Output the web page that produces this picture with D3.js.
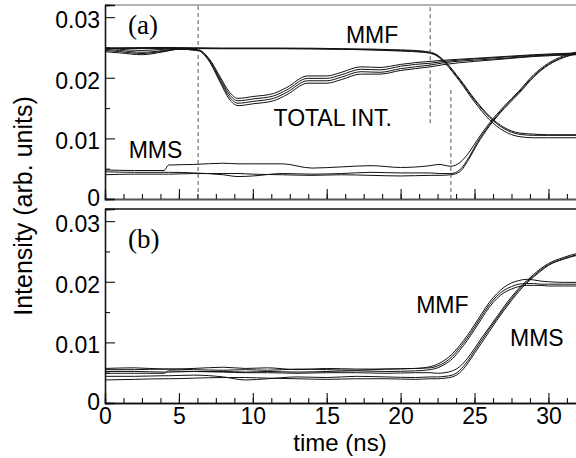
<!DOCTYPE html>
<html>
<head>
<meta charset="utf-8">
<script src="https://cdn.jsdelivr.net/npm/d3@7/dist/d3.min.js"></script>
<style>
  body { margin: 0; background: #fff; }
  svg { display: block; }
</style>
</head>
<body>
<div id="chart"></div>
<script>
/* Panel (a): time grids and the traces.
** Each group (MMF, MMS, TOTAL INT.) is a bundle of a few repeated shots.
*/
var timeTotA = [0, 1, 2.5, 4, 5, 6.3, 7, 7.8, 8.4, 9, 10, 11.4, 12.3, 13.7, 15, 16, 17.3, 18.6, 20, 21, 22, 23, 25, 27, 29, 32];
var totalA1 = [0.0249,0.0247,0.0245,0.0247,0.0248,0.0246,0.0233,0.0201,0.0177,0.0166,0.0169,0.0174,0.0184,0.0203,0.0203,0.0209,0.0218,0.0217,0.0222,0.0225,0.0227,0.0229,0.0232,0.0235,0.0238,0.0241];
var totalA2 = [0.0247,0.0245,0.0242,0.0245,0.0248,0.0246,0.0231,0.0198,0.0173,0.0162,0.0165,0.0170,0.0180,0.0199,0.0199,0.0205,0.0214,0.0213,0.0219,0.0222,0.0224,0.0227,0.0231,0.0234,0.0237,0.0240];
var totalA3 = [0.0245,0.0243,0.0240,0.0244,0.0247,0.0245,0.0230,0.0195,0.0169,0.0158,0.0161,0.0166,0.0176,0.0195,0.0195,0.0201,0.0210,0.0209,0.0215,0.0218,0.0221,0.0225,0.0229,0.0232,0.0236,0.0239];
var totalA4 = [0.0243,0.0241,0.0238,0.0243,0.0247,0.0245,0.0229,0.0192,0.0165,0.0154,0.0157,0.0162,0.0172,0.0191,0.0191,0.0197,0.0206,0.0206,0.0212,0.0215,0.0218,0.0222,0.0227,0.0231,0.0235,0.0238];

var timeMmfA = [0, 4, 8, 12, 16, 20, 21.5, 22.3, 23, 24, 25, 26, 27, 28, 29, 30, 32];
var mmfA1 = [0.0249,0.0250,0.0249,0.0249,0.0248,0.0246,0.0244,0.0240,0.0227,0.0198,0.0165,0.0137,0.0118,0.0109,0.0107,0.0106,0.0106];
var mmfA2 = [0.0248,0.0249,0.0248,0.0248,0.0247,0.0245,0.0243,0.0239,0.0226,0.0196,0.0163,0.0135,0.0116,0.0107,0.0105,0.0105,0.0105];
var mmfA3 = [0.0249,0.0248,0.0248,0.0248,0.0247,0.0244,0.0242,0.0238,0.0224,0.0194,0.0160,0.0131,0.0112,0.0103,0.0101,0.0101,0.0101];

var timeMmsA = [0, 2, 4, 4.3, 6, 8, 9, 10, 12, 14, 16, 18, 20, 22, 22.6, 23.4, 24, 24.6, 25.2, 26, 27, 28, 29, 30, 31, 32];
var mmsA1 = [0.0048,0.0047,0.0047,0.0056,0.0057,0.0059,0.0058,0.0058,0.0058,0.0051,0.0053,0.0055,0.0052,0.0055,0.0057,0.0054,0.0060,0.0076,0.0098,0.0125,0.0153,0.0178,0.0205,0.0224,0.0236,0.0243];
var mmsA2 = [0.0045,0.0044,0.0044,0.0044,0.0043,0.0040,0.0037,0.0038,0.0042,0.0041,0.0042,0.0044,0.0043,0.0043,0.0042,0.0042,0.0048,0.0068,0.0094,0.0122,0.0151,0.0176,0.0203,0.0222,0.0234,0.0241];
var mmsA3 = [0.0040,0.0041,0.0041,0.0041,0.0042,0.0042,0.0042,0.0041,0.0040,0.0039,0.0040,0.0039,0.0038,0.0039,0.0039,0.0040,0.0045,0.0065,0.0091,0.0120,0.0149,0.0174,0.0201,0.0221,0.0233,0.0240];

// Panel (b): one time grid for both bundles
var timeB = [0, 2, 4, 4.3, 6, 8, 9.5, 11, 13, 15, 17, 19, 21, 22, 22.5, 23, 23.5, 24, 24.5, 25, 25.5, 26, 26.5, 27, 27.5, 28, 28.5, 29, 29.5, 30, 31, 32];
var mmfB1 = [0.0057,0.0058,0.0056,0.0056,0.0057,0.0059,0.0057,0.0058,0.0055,0.0057,0.0056,0.0056,0.0057,0.0060,0.0064,0.0071,0.0081,0.0095,0.0111,0.0129,0.0148,0.0166,0.0180,0.0191,0.0198,0.0202,0.0204,0.0203,0.0201,0.0200,0.0199,0.0199];
var mmfB2 = [0.0055,0.0055,0.0056,0.0056,0.0055,0.0054,0.0055,0.0054,0.0056,0.0055,0.0054,0.0056,0.0057,0.0058,0.0061,0.0067,0.0077,0.0091,0.0107,0.0125,0.0144,0.0162,0.0176,0.0186,0.0192,0.0196,0.0197,0.0197,0.0196,0.0196,0.0196,0.0196];
var mmfB3 = [0.0052,0.0052,0.0051,0.0051,0.0052,0.0052,0.0051,0.0052,0.0051,0.0052,0.0053,0.0052,0.0053,0.0055,0.0058,0.0064,0.0073,0.0087,0.0103,0.0121,0.0140,0.0158,0.0172,0.0182,0.0188,0.0192,0.0194,0.0194,0.0194,0.0193,0.0193,0.0193];
var mmsB1 = [0.0049,0.0049,0.0049,0.0053,0.0052,0.0051,0.0050,0.0050,0.0049,0.0050,0.0050,0.0049,0.0050,0.0050,0.0049,0.0050,0.0053,0.0060,0.0073,0.0090,0.0108,0.0125,0.0142,0.0159,0.0175,0.0189,0.0201,0.0212,0.0222,0.0230,0.0240,0.0247];
var mmsB2 = [0.0044,0.0044,0.0045,0.0045,0.0046,0.0043,0.0038,0.0040,0.0043,0.0042,0.0044,0.0043,0.0042,0.0043,0.0043,0.0044,0.0046,0.0054,0.0068,0.0086,0.0104,0.0122,0.0139,0.0156,0.0172,0.0187,0.0199,0.0210,0.0220,0.0228,0.0238,0.0245];
var mmsB3 = [0.0038,0.0039,0.0040,0.0040,0.0041,0.0042,0.0042,0.0041,0.0040,0.0039,0.0040,0.0040,0.0039,0.0040,0.0040,0.0041,0.0043,0.0050,0.0064,0.0082,0.0100,0.0118,0.0136,0.0153,0.0169,0.0184,0.0197,0.0208,0.0218,0.0227,0.0237,0.0244];

// dashed markers in panel (a): time, lower and upper intensity
var markerTimes = [6.3, 22, 23.4];
var markerLow = [0, 0.0125, 0];
var markerHigh = [0.032, 0.032, 0.0181];

// tick values
var xMajorTicks = [0, 5, 10, 15, 20, 25, 30];
var yMajorTicks = [0, 0.01, 0.02, 0.03];
var yTickLabels = ["0", "0.01", "0.02", "0.03"];

// text annotations (in data units)
var notesA = [
    { text: "MMF", t: 16.3, v: 0.0258 },
    { text: "TOTAL INT.", t: 11.4, v: 0.0120 },
    { text: "MMS", t: 1.6, v: 0.0067 }
];
var notesB = [
    { text: "MMF", t: 21.05, v: 0.0148 },
    { text: "MMS", t: 27.4, v: 0.00945 }
];

var config = {
    width: 576,
    height: 458,
    left: 105,
    right: 578,
    panels: [
        { top: 5, bottom: 199 },
        { top: 209, bottom: 403 }
    ],
    font: "'Liberation Sans', Arial, Helvetica, sans-serif",
    serif: "'Liberation Serif', 'Times New Roman', serif",
    fontSize: 23
};

var svg = d3.select("#chart").append("svg")
    .attr("width", config.width)
    .attr("height", config.height)
    .style("background", "#fff");

var x = d3.scaleLinear().domain([0, 32]).range([config.left, config.right]);

function zip(ts, vs) {
    return ts.map(function (t, i) { return [t, vs[i]]; });
}

function drawPanel(p, traces, showX, label, notes, frameColors) {
    var y = d3.scaleLinear().domain([0, 0.032]).range([p.bottom, p.top]);
    var g = svg.append("g");

    var line = d3.line()
        .x(function (d) { return x(d[0]); })
        .y(function (d) { return y(d[1]); })
        .curve(d3.curveMonotoneX);

    g.selectAll(".trace")
        .data(traces)
        .enter().append("path")
        .attr("d", function (d) { return line(zip(d.t, d.v)); })
        .attr("fill", "none")
        .attr("stroke", "#111")
        .attr("stroke-width", 1);

    // frame top
    g.append("line")
        .attr("x1", config.left).attr("x2", config.width)
        .attr("y1", p.top).attr("y2", p.top)
        .attr("stroke", frameColors.top).attr("stroke-width", 1.3);

    // x axis, ticks inward
    var xMinor = d3.axisBottom(x).tickValues(d3.range(0, 32.1, 1.25)).tickSize(-5).tickFormat("");
    var xMajor = d3.axisBottom(x).tickValues(xMajorTicks).tickSize(-10).tickPadding(5)
        .tickFormat(showX ? d3.format("d") : function () { return ""; });
    g.append("g").attr("transform", "translate(0," + p.bottom + ")").call(xMinor);
    var xa = g.append("g").attr("transform", "translate(0," + p.bottom + ")").call(xMajor);

    // y axis, ticks inward
    var yMinor = d3.axisLeft(y).tickValues([0.005, 0.015, 0.025]).tickSize(-5).tickFormat("");
    var yMajor = d3.axisLeft(y).tickValues(yMajorTicks).tickSize(-10).tickPadding(5)
        .tickFormat(function (d, i) { return yTickLabels[i]; });
    g.append("g").attr("transform", "translate(" + config.left + ",0)").call(yMinor);
    var ya = g.append("g").attr("transform", "translate(" + config.left + ",0)").call(yMajor);

    g.selectAll(".domain").attr("stroke", "#111").attr("stroke-width", 1.3);
    xa.select(".domain").attr("stroke", frameColors.bottom);
    g.selectAll(".tick line").attr("stroke", "#111").attr("stroke-width", 1.1);
    g.selectAll(".tick text")
        .attr("font-family", config.font)
        .attr("font-size", config.fontSize)
        .attr("fill", "#000");
    ya.selectAll(".tick text").attr("dy", function (d) { return d === 0 ? "0.3em" : "0.46em"; });

    g.selectAll(".note")
        .data(notes)
        .enter().append("text")
        .attr("x", function (d) { return x(d.t); })
        .attr("y", function (d) { return y(d.v); })
        .attr("font-family", config.font)
        .attr("font-size", config.fontSize)
        .text(function (d) { return d.text; });

    g.append("text")
        .attr("x", x(1.56))
        .attr("y", y(label.v))
        .attr("font-family", config.serif)
        .attr("font-size", 27)
        .text(label.text);

    return { g: g, y: y };
}

var a = drawPanel(config.panels[0], [
    { t: timeTotA, v: totalA1 }, { t: timeTotA, v: totalA2 },
    { t: timeTotA, v: totalA3 }, { t: timeTotA, v: totalA4 },
    { t: timeMmfA, v: mmfA1 }, { t: timeMmfA, v: mmfA2 }, { t: timeMmfA, v: mmfA3 },
    { t: timeMmsA, v: mmsA1 }, { t: timeMmsA, v: mmsA2 }, { t: timeMmsA, v: mmsA3 }
], false, { text: "(a)", v: 0.0272 }, notesA, { top: "#999", bottom: "#555" });

// dashed markers
a.g.selectAll(".marker")
    .data(markerTimes)
    .enter().append("line")
    .attr("x1", function (d) { return x(d); })
    .attr("x2", function (d) { return x(d); })
    .attr("y1", function (d, i) { return a.y(markerLow[i]); })
    .attr("y2", function (d, i) { return a.y(markerHigh[i]); })
    .attr("stroke", "#555")
    .attr("stroke-width", 1)
    .attr("stroke-dasharray", "4,3");

drawPanel(config.panels[1], [
    { t: timeB, v: mmfB1 }, { t: timeB, v: mmfB2 }, { t: timeB, v: mmfB3 },
    { t: timeB, v: mmsB1 }, { t: timeB, v: mmsB2 }, { t: timeB, v: mmsB3 }
], true, { text: "(b)", v: 0.0256 }, notesB, { top: "#111", bottom: "#111" });

// axis titles
svg.append("text")
    .attr("transform", "translate(32,206) rotate(-90)")
    .attr("text-anchor", "middle")
    .attr("font-family", config.font)
    .attr("font-size", 25)
    .text("Intensity (arb. units)");

svg.append("text")
    .attr("x", 340)
    .attr("y", 451)
    .attr("text-anchor", "middle")
    .attr("font-family", config.font)
    .attr("font-size", 24)
    .text("time (ns)");
</script>
</body>
</html>
